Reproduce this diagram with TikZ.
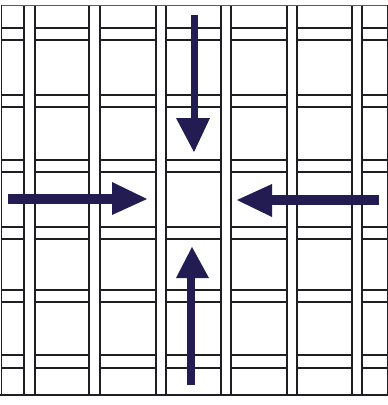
\documentclass[tikz,border=0pt]{standalone}
\begin{document}
\begin{tikzpicture}[x=1pt,y=-1pt,
  gridline/.style={draw={rgb,255:red,30;green,30;blue,35},line width=1.5pt},
  arrowfill/.style={fill={rgb,255:red,34;green,28;blue,82}}]
\useasboundingbox (0,0) rectangle (388,405);
\fill[white] (0,0) rectangle (388,405);
% horizontal double lines
\foreach \y in {28,40,95,107,160,172,227,239,290,302,355,368}
  \draw[gridline] (1,\y) -- (387,\y);
% vertical strips
\foreach \a/\b in {24/35,89/100,156/166,221/231,287/297,352/362}{
  \fill[white] (\a,5) rectangle (\b,395);
  \draw[gridline] (\a,5) -- (\a,395);
  \draw[gridline] (\b,5) -- (\b,395);
}
% border
\draw[gridline,line width=1pt,draw={rgb,255:red,90;green,90;blue,95}] (1,5) -- (387,5);
\draw[gridline,line width=1pt] (1,5) -- (1,395);
\draw[gridline,line width=1pt] (387,5) -- (387,395);
\draw[gridline,line width=2pt] (0,395) -- (388,395);
% arrows
\fill[arrowfill] (190.5,15) rectangle (197.5,120);
\fill[arrowfill] (176,118) -- (210,118) -- (194,152) -- cycle;
\fill[arrowfill] (8,193.5) rectangle (114,203.5);
\fill[arrowfill] (112,182) -- (112,215) -- (147,199) -- cycle;
\fill[arrowfill] (270,195) rectangle (379,205);
\fill[arrowfill] (272,184) -- (272,217) -- (237,200) -- cycle;
\fill[arrowfill] (187,276) rectangle (195,385);
\fill[arrowfill] (176,278) -- (209,278) -- (192,247) -- cycle;
\end{tikzpicture}
\end{document}
